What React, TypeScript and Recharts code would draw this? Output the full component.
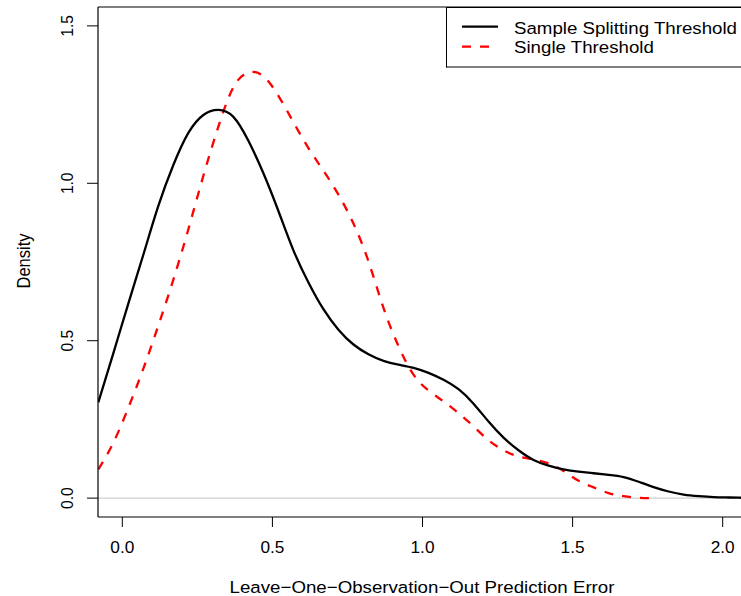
import React from 'react';
import { LineChart, Line, XAxis, YAxis, ReferenceLine, Legend } from 'recharts';

// Evaluation grid of the density estimates (step 0.05)
const gridX = [-0.08, -0.03, 0.02, 0.07, 0.12, 0.17, 0.22, 0.27, 0.32, 0.37, 0.42, 0.47, 0.52, 0.57, 0.62, 0.67, 0.72, 0.77, 0.82, 0.87, 0.92, 0.97, 1.02, 1.07, 1.12, 1.17, 1.22, 1.27, 1.32, 1.37, 1.42, 1.47, 1.52, 1.57, 1.62, 1.67, 1.72, 1.77, 1.82, 1.87, 1.92, 1.97, 2.02, 2.07];

// Sample Splitting Threshold (black solid)
const sampleY = [0.304, 0.46, 0.618, 0.773, 0.928, 1.058, 1.16, 1.217, 1.233, 1.211, 1.135, 1.032, 0.912, 0.787, 0.685, 0.6, 0.535, 0.488, 0.457, 0.436, 0.424, 0.414, 0.398, 0.376, 0.346, 0.3, 0.243, 0.192, 0.152, 0.121, 0.103, 0.091, 0.084, 0.079, 0.074, 0.067, 0.052, 0.035, 0.021, 0.011, 0.006, 0.003, 0.002, 0.001];

// Single Threshold (red dashed), ends near 1.75
const singleY = [0.091, 0.176, 0.287, 0.411, 0.548, 0.694, 0.854, 1.024, 1.18, 1.305, 1.352, 1.34, 1.278, 1.194, 1.112, 1.04, 0.964, 0.872, 0.752, 0.604, 0.483, 0.392, 0.342, 0.307, 0.27, 0.228, 0.184, 0.152, 0.132, 0.123, 0.11, 0.086, 0.055, 0.034, 0.016, 0.006, 0.001, 0.0];

const xTicks = [0, 0.5, 1, 1.5, 2];
const yTicks = [0, 0.5, 1, 1.5];
const seriesNames = ['Sample Splitting Threshold', 'Single Threshold'];
const xTitle = 'Leave\u2212One\u2212Observation\u2212Out Prediction Error';
const yTitle = 'Density';

const sampleData = gridX.map((x, i) => ({ x, y: sampleY[i] }));
const singleData = singleY.map((y, i) => ({ x: gridX[i], y }));

const FONT = '"Liberation Sans", Arial, Helvetica, sans-serif';
const SX = 1.1;

const XTick = (props: any) => {
  const { x, payload } = props;
  return (
    <text transform={`translate(${x},553) scale(${SX},1)`} textAnchor="middle" fontSize={15.7} fontFamily={FONT} fill="#000">
      {Number(payload.value).toFixed(1)}
    </text>
  );
};

const YTick = (props: any) => {
  const { y, payload } = props;
  return (
    <text transform={`translate(72.5,${y}) scale(${SX},1) rotate(-90)`} textAnchor="middle" fontSize={15.6} fontFamily={FONT} fill="#000">
      {Number(payload.value).toFixed(1)}
    </text>
  );
};

const XTitle = () => (
  <text transform={`translate(422,593) scale(${SX},1)`} textAnchor="middle" fontSize={17} fontFamily={FONT} fill="#000">
    {xTitle}
  </text>
);

const YTitle = () => (
  <text transform={`translate(29.5,261) scale(${SX},1) rotate(-90)`} textAnchor="middle" fontSize={16.5} fontFamily={FONT} fill="#000">
    {yTitle}
  </text>
);

const LegendBox = () => (
  <svg width={295} height={61} style={{ display: 'block' }}>
    <line x1={0.5} y1={0} x2={0.5} y2={60.5} stroke="#000" strokeWidth={1} />
    <line x1={0} y1={0.5} x2={295} y2={0.5} stroke="#000" strokeWidth={1} />
    <line x1={0} y1={60} x2={295} y2={60} stroke="#000" strokeWidth={1} />
    <line x1={16} y1={19.7} x2={52} y2={19.7} stroke="#000" strokeWidth={2.2} />
    <line x1={16} y1={39.7} x2={52} y2={39.7} stroke="#ff0000" strokeWidth={2.2} strokeDasharray="9 9" />
    <text transform={`translate(68,27) scale(${SX},1)`} fontSize={17} fontFamily={FONT} fill="#000">{seriesNames[0]}</text>
    <text transform={`translate(68,46.3) scale(${SX},1)`} fontSize={17} fontFamily={FONT} fill="#000">{seriesNames[1]}</text>
  </svg>
);

export default function App() {
  return (
    <div style={{ position: 'absolute', left: 0, top: 0, width: 741, height: 596, background: '#fff', overflow: 'hidden' }}>
      <LineChart width={741} height={596} margin={{ top: 7, right: 0, bottom: 0, left: 0 }}>
        <XAxis
          type="number"
          dataKey="x"
          domain={[-0.081, 2.061]}
          allowDataOverflow
          ticks={xTicks}
          interval={0}
          height={79}
          tickSize={10}
          tick={<XTick />}
          tickLine={{ stroke: '#000', strokeWidth: 1 }}
          axisLine={{ stroke: '#000', strokeWidth: 1.2 }}
          label={<XTitle />}
        />
        <YAxis
          type="number"
          dataKey="y"
          domain={[-0.06, 1.56]}
          allowDataOverflow
          ticks={yTicks}
          interval={0}
          width={98}
          tickSize={11}
          tick={<YTick />}
          tickLine={{ stroke: '#000', strokeWidth: 1 }}
          axisLine={{ stroke: '#000', strokeWidth: 1.2 }}
          label={<YTitle />}
        />
        <ReferenceLine y={0} stroke="#d0d0d0" strokeWidth={1.2} />
        <ReferenceLine y={1.56} stroke="#000" strokeWidth={1.2} />
        <Line
          data={singleData}
          dataKey="y"
          name={seriesNames[1]}
          type="natural"
          stroke="#ff0000"
          strokeWidth={2.3}
          strokeDasharray="9 9"
          dot={false}
          activeDot={false}
          isAnimationActive={false}
        />
        <Line
          data={sampleData}
          dataKey="y"
          name={seriesNames[0]}
          type="natural"
          stroke="#000"
          strokeWidth={2.3}
          dot={false}
          activeDot={false}
          isAnimationActive={false}
        />
        <Legend
          layout="horizontal"
          verticalAlign="middle"
          align="center"
          content={() => <LegendBox />}
          wrapperStyle={{ position: 'absolute', left: 446, top: 7, width: 295, height: 61, margin: 0, padding: 0 }}
        />
      </LineChart>
    </div>
  );
}
